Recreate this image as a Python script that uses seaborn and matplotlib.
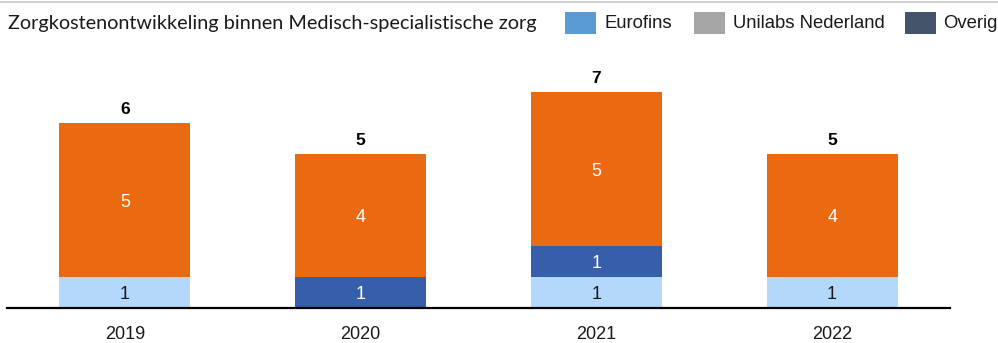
import numpy as np
import pandas as pd
import matplotlib
matplotlib.use("Agg")
import matplotlib.pyplot as plt
from matplotlib.patches import Rectangle
from matplotlib.lines import Line2D
import seaborn as sns

# Data (costs per year, stacked segments from bottom to top)
years = ["2019", "2020", "2021", "2022"]
seg_light = [1, 0, 1, 1]
seg_dark = [0, 1, 1, 0]
seg_orange = [5, 4, 5, 4]
title = "Zorgkostenontwikkeling binnen Medisch-specialistische zorg"
legend_labels = ["Eurofins", "Unilabs Nederland", "Overig"]
legend_colors = ["#5B9BD5", "#A5A5A5", "#44546A"]

c_light = "#B3D8FB"
c_dark = "#365EAB"
c_orange = "#E96A10"

sns.set_theme(style="white")
plt.rcParams["font.family"] = ["Liberation Sans", "DejaVu Sans"]

W, H = 998, 343
fig = plt.figure(figsize=(W / 100, H / 100), dpi=100)

# axes placement in pixels
x0, x1 = 7, 950
y_base = 308
px_per_unit = 30.85
ymax = 8
ax = fig.add_axes([x0 / W, (H - y_base) / H, (x1 - x0) / W, ymax * px_per_unit / H])

df = pd.DataFrame({"year": years, "light": seg_light, "dark": seg_dark, "orange": seg_orange})
df["c1"] = df["light"]
df["c2"] = df["c1"] + df["dark"]
df["c3"] = df["c2"] + df["orange"]

bw = 0.555
# stacked by overlaying cumulative heights, tallest first
for col, color in [("c3", c_orange), ("c2", c_dark), ("c1", c_light)]:
    sns.barplot(data=df, x="year", y=col, color=color, saturation=1, width=bw,
                ax=ax, linewidth=0, errorbar=None)

# segment labels
lab_fs = 13
for i, row in df.iterrows():
    if row["light"] > 0:
        ax.text(i, row["light"] / 2, f"{row['light']}", ha="center", va="center_baseline",
                fontsize=lab_fs, color="#1a1a1a")
    if row["dark"] > 0:
        ax.text(i, row["c1"] + row["dark"] / 2, f"{row['dark']}", ha="center",
                va="center_baseline", fontsize=lab_fs, color="white")
    if row["orange"] > 0:
        ax.text(i, row["c2"] + row["orange"] / 2, f"{row['orange']}", ha="center",
                va="center_baseline", fontsize=lab_fs, color="white")
    ax.text(i, row["c3"] + 0.49, f"{row['c3']}", ha="center", va="center_baseline",
            fontsize=12.5, fontweight="bold", color="black")

ax.set_xlim(-0.5, 3.5)
ax.set_ylim(0, ymax)
ax.set_xlabel("")
ax.set_ylabel("")
ax.set_yticks([])
for s in ["top", "right", "left"]:
    ax.spines[s].set_visible(False)
ax.spines["bottom"].set_color("black")
ax.spines["bottom"].set_linewidth(1.6)
ax.tick_params(axis="x", length=0, pad=13, labelsize=13, labelcolor="#1a1a1a")

# header rule
fig.add_artist(Line2D([0, 1], [1 - 2 / H, 1 - 2 / H], color="#C8C8C8", lw=1.2,
                      transform=fig.transFigure))

# title
fig.text(8 / W, 1 - 24 / H, title, ha="left", va="center", fontsize=14.3,
         family=["Lato", "DejaVu Sans"], color="#1a1a1a")

# legend
patch_x = [565, 694, 905]
text_x = [605, 733, 943]
for lab, col, px, tx in zip(legend_labels, legend_colors, patch_x, text_x):
    fig.add_artist(Rectangle((px / W, 1 - 34 / H), 31 / W, 22 / H, color=col,
                             transform=fig.transFigure, lw=0))
    fig.text(tx / W, 1 - 23 / H, lab, ha="left", va="center", fontsize=13.3,
             color="#1a1a1a")

fig.savefig("out.png", dpi=100)
